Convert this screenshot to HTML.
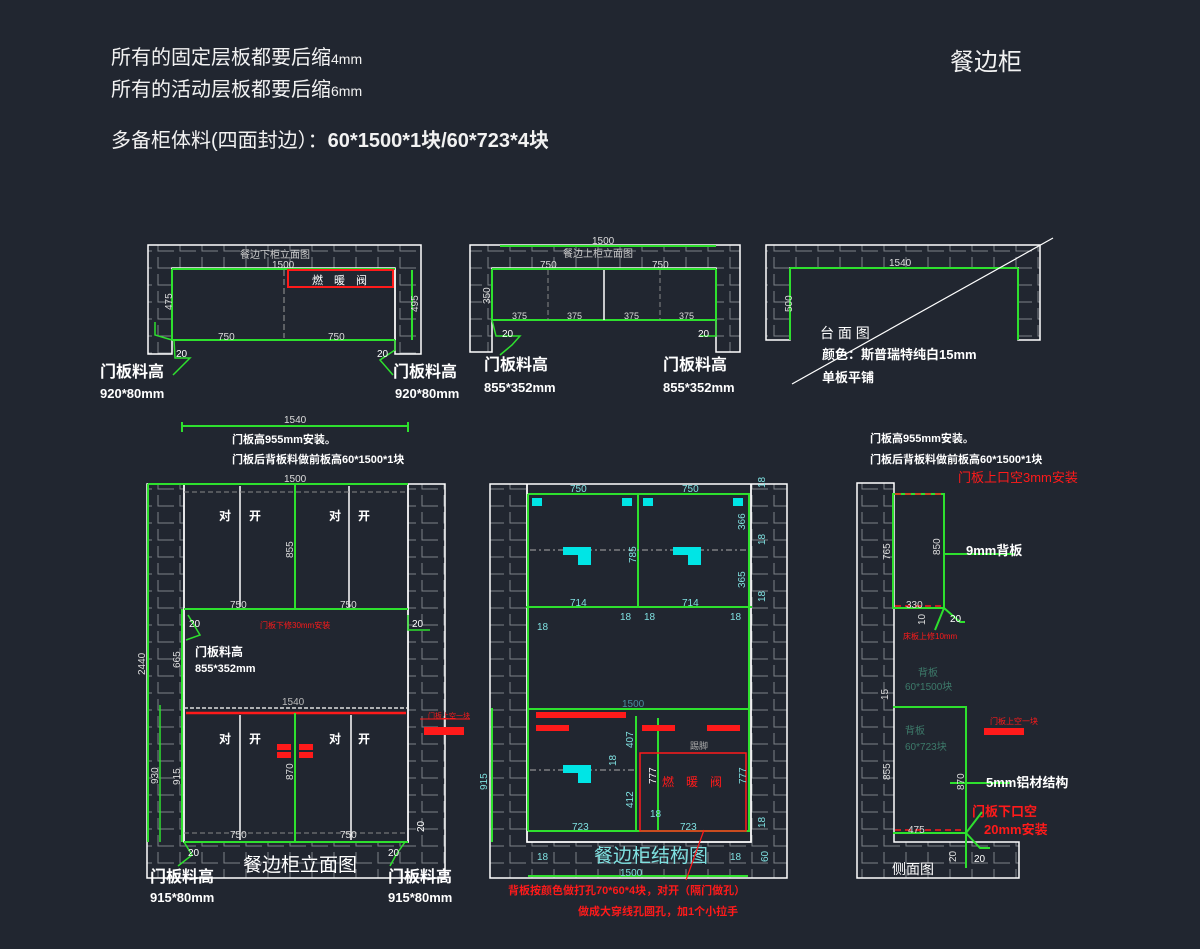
<!DOCTYPE html>
<html><head><meta charset="utf-8"><style>
html,body{margin:0;padding:0;background:#212630;}
svg{display:block}
text{font-family:"Liberation Sans","Noto Sans CJK SC",sans-serif;}
</style></head><body>
<svg width="1200" height="949" viewBox="0 0 1200 949" xmlns="http://www.w3.org/2000/svg">
<defs>
<pattern id="br" width="22" height="17" patternUnits="userSpaceOnUse">
<path d="M4 2 V13 H20" stroke="#7d8288" stroke-width="1" fill="none"/>
</pattern>
</defs>
<rect width="1200" height="949" fill="#212630"/>

<!-- header texts -->
<g fill="#f2f2f2" font-size="20">
<text x="111" y="64">所有的固定层板都要后缩<tspan font-size="14">4mm</tspan></text>
<text x="111" y="96">所有的活动层板都要后缩<tspan font-size="14">6mm</tspan></text>
<text x="111" y="147">多备柜体料(四面封边）：<tspan font-weight="bold">60*1500*1块/60*723*4块</tspan></text>
<text x="950" y="70" font-size="24">餐边柜</text>
</g>

<!-- ===== Drawing 1 ===== -->
<g>
<path d="M148 245 H421 V354 H395 V268 H172 V354 H148 Z" fill="url(#br)" stroke="#fff" stroke-width="1.5"/>
<rect x="172" y="269" width="223" height="71" fill="none" stroke="#fff" stroke-width="1.5"/>
<path d="M172 269 H395 M172 340 H395 M172 269 V340" stroke="#2ee02e" stroke-width="2" fill="none"/>
<line x1="284" y1="270" x2="284" y2="338" stroke="#999" stroke-dasharray="6,3"/>
<rect x="288" y="270" width="105" height="17" fill="none" stroke="#ff1a1a" stroke-width="2"/>
<text x="312" y="284" fill="#fff" font-size="11">燃　暖　阀</text>
<text x="240" y="258" fill="#ccc" font-size="10">餐边下柜立面图</text>
<text x="272" y="268" fill="#ddd" font-size="10">1500</text>
<text x="218" y="340" fill="#ddd" font-size="10">750</text>
<text x="328" y="340" fill="#ddd" font-size="10">750</text>
<line x1="412" y1="270" x2="412" y2="340" stroke="#2ee02e" stroke-width="2"/>
<text transform="translate(172,310) rotate(-90)" fill="#ddd" font-size="10">475</text>
<text transform="translate(418,312) rotate(-90)" fill="#ddd" font-size="10">495</text>
<path d="M155 322 V335 L172 340 M174 340 L175 358 H190 L173 375" stroke="#2ee02e" stroke-width="1.5" fill="none"/>
<path d="M395 340 V350 L380 360 L393 375" stroke="#2ee02e" stroke-width="1.5" fill="none"/>
<text x="176" y="357" fill="#fff" font-size="10">20</text>
<text x="377" y="357" fill="#fff" font-size="10">20</text>
</g>
<g fill="#fff" font-weight="bold">
<text x="100" y="377" font-size="16">门板料高</text>
<text x="100" y="398" font-size="13">920*80mm</text>
<text x="393" y="377" font-size="16">门板料高</text>
<text x="395" y="398" font-size="13">920*80mm</text>
<text x="484" y="370" font-size="16">门板料高</text>
<text x="484" y="392" font-size="13">855*352mm</text>
<text x="663" y="370" font-size="16">门板料高</text>
<text x="663" y="392" font-size="13">855*352mm</text>
</g>

<!-- ===== Drawing 2 ===== -->
<g>
<path d="M470 245 H740 V352 H716 V268 H492 V352 H470 Z" fill="url(#br)" stroke="#fff" stroke-width="1.5"/>
<rect x="492" y="269" width="224" height="51" fill="none" stroke="#fff" stroke-width="1.5"/>
<path d="M492 269 H716 M492 320 H716 M492 269 V320 M716 269 V320" stroke="#2ee02e" stroke-width="2" fill="none"/>
<line x1="500" y1="246" x2="716" y2="246" stroke="#2ee02e" stroke-width="2"/>
<line x1="604" y1="270" x2="604" y2="320" stroke="#fff" stroke-width="1.5"/>
<line x1="548" y1="270" x2="548" y2="320" stroke="#888" stroke-dasharray="5,3"/>
<line x1="660" y1="270" x2="660" y2="320" stroke="#888" stroke-dasharray="5,3"/>
<text x="592" y="244" fill="#ddd" font-size="10">1500</text>
<text x="563" y="257" fill="#ccc" font-size="10">餐边上柜立面图</text>
<text x="540" y="268" fill="#ddd" font-size="10">750</text>
<text x="652" y="268" fill="#ddd" font-size="10">750</text>
<text x="512" y="319" fill="#ddd" font-size="9">375</text>
<text x="567" y="319" fill="#ddd" font-size="9">375</text>
<text x="624" y="319" fill="#ddd" font-size="9">375</text>
<text x="679" y="319" fill="#ddd" font-size="9">375</text>
<text transform="translate(490,304) rotate(-90)" fill="#ddd" font-size="10">350</text>
<path d="M492 320 L496 336 H520 L512 345 L500 355" stroke="#2ee02e" stroke-width="1.5" fill="none"/>
<path d="M716 320 V336 H700" stroke="#2ee02e" stroke-width="1.5" fill="none"/>
<text x="502" y="337" fill="#fff" font-size="10">20</text>
<text x="698" y="337" fill="#fff" font-size="10">20</text>
</g>

<!-- ===== Drawing 3 ===== -->
<g>
<path d="M766 245 H1040 V340 H1018 V268 H790 V340 H766 Z" fill="url(#br)" stroke="#fff" stroke-width="1.5"/>
<path d="M790 268 H1018 M790 268 V340 M1018 268 V340" stroke="#2ee02e" stroke-width="2" fill="none"/>
<text x="889" y="266" fill="#ddd" font-size="10">1540</text>
<text transform="translate(792,312) rotate(-90)" fill="#ddd" font-size="10">500</text>
<line x1="792" y1="384" x2="1053" y2="238" stroke="#fff" stroke-width="1.2"/>
<text x="820" y="338" fill="#fff" font-size="14">台 面 图</text>
<text x="822" y="359" fill="#fff" font-size="13" font-weight="bold">颜色：斯普瑞特纯白15mm</text>
<text x="822" y="382" fill="#fff" font-size="13" font-weight="bold">单板平铺</text>
</g>

<!-- ===== Elevation (bottom left) ===== -->
<g>
<path d="M147 484 H445 V878 H147 Z M184 484 V842 H408 V484 Z" fill="url(#br)" fill-rule="evenodd" stroke="#fff" stroke-width="1.5"/>
<path d="M184 484 V842 H408 V484" fill="none" stroke="#fff" stroke-width="1.5"/>
<line x1="184" y1="609" x2="408" y2="609" stroke="#2ee02e" stroke-width="2"/>
<line x1="148" y1="484" x2="408" y2="484" stroke="#2ee02e" stroke-width="2"/>
<line x1="184" y1="708" x2="408" y2="708" stroke="#ddd" stroke-width="1.5" stroke-dasharray="4,2"/>
<line x1="186" y1="713" x2="406" y2="713" stroke="#ff1a1a" stroke-width="2.5"/>
<line x1="184" y1="842" x2="408" y2="842" stroke="#2ee02e" stroke-width="2"/>
<line x1="148" y1="484" x2="148" y2="842" stroke="#2ee02e" stroke-width="2"/>
<line x1="160" y1="705" x2="160" y2="842" stroke="#2ee02e" stroke-width="1.5"/>
<line x1="182" y1="609" x2="182" y2="842" stroke="#2ee02e" stroke-width="2"/>
<line x1="295" y1="484" x2="295" y2="609" stroke="#2ee02e" stroke-width="2"/>
<line x1="295" y1="713" x2="295" y2="842" stroke="#2ee02e" stroke-width="2"/>
<line x1="240" y1="486" x2="240" y2="607" stroke="#fff" stroke-width="1.5"/>
<line x1="349" y1="486" x2="349" y2="607" stroke="#fff" stroke-width="1.5"/>
<line x1="240" y1="715" x2="240" y2="840" stroke="#fff" stroke-width="1.5"/>
<line x1="351" y1="715" x2="351" y2="840" stroke="#fff" stroke-width="1.5"/>
<line x1="184" y1="492" x2="408" y2="492" stroke="#888" stroke-dasharray="5,3"/>
<line x1="184" y1="833" x2="408" y2="833" stroke="#888" stroke-dasharray="5,3"/>
<line x1="182" y1="426" x2="408" y2="426" stroke="#2ee02e" stroke-width="2"/>
<line x1="182" y1="422" x2="182" y2="432" stroke="#2ee02e" stroke-width="2"/>
<line x1="408" y1="422" x2="408" y2="432" stroke="#2ee02e" stroke-width="2"/>
<text x="284" y="423" fill="#ddd" font-size="10">1540</text>
<text x="232" y="443" fill="#fff" font-size="11" font-weight="bold">门板高955mm安装。</text>
<text x="232" y="463" fill="#fff" font-size="11" font-weight="bold">门板后背板料做前板高60*1500*1块</text>
<text x="284" y="482" fill="#ddd" font-size="10">1500</text>
<g fill="#fff" font-size="12" font-weight="bold">
<text x="219" y="520">对</text><text x="249" y="520">开</text>
<text x="329" y="520">对</text><text x="358" y="520">开</text>
<text x="219" y="743">对</text><text x="249" y="743">开</text>
<text x="329" y="743">对</text><text x="358" y="743">开</text>
</g>
<rect x="277" y="744" width="14" height="6" fill="#ff1a1a"/><rect x="299" y="744" width="14" height="6" fill="#ff1a1a"/>
<rect x="277" y="752" width="14" height="6" fill="#ff1a1a"/><rect x="299" y="752" width="14" height="6" fill="#ff1a1a"/>
<rect x="424" y="727" width="40" height="8" fill="#ff1a1a"/>
<line x1="420" y1="719" x2="470" y2="719" stroke="#ff1a1a" stroke-width="1"/>
<text x="428" y="718" fill="#ff1a1a" font-size="7">门板上空一块</text>
<text x="260" y="628" fill="#ff1a1a" font-size="8">门板下修30mm安装</text>
<text x="230" y="608" fill="#ddd" font-size="10">750</text>
<text x="340" y="608" fill="#ddd" font-size="10">750</text>
<text x="230" y="838" fill="#ddd" font-size="10">750</text>
<text x="340" y="838" fill="#ddd" font-size="10">750</text>
<text x="282" y="705" fill="#bbb" font-size="10">1540</text>
<text transform="translate(293,558) rotate(-90)" fill="#ddd" font-size="10">855</text>
<text transform="translate(293,780) rotate(-90)" fill="#ddd" font-size="10">870</text>
<text transform="translate(145,675) rotate(-90)" fill="#ddd" font-size="10">2440</text>
<text transform="translate(180,668) rotate(-90)" fill="#ddd" font-size="10">665</text>
<text transform="translate(158,784) rotate(-90)" fill="#ddd" font-size="10">930</text>
<text transform="translate(180,785) rotate(-90)" fill="#ddd" font-size="10">915</text>
<path d="M188 615 L200 635 L186 640 M408 615 V630 H430" stroke="#2ee02e" stroke-width="1.5" fill="none"/>
<text x="189" y="627" fill="#fff" font-size="10">20</text>
<text x="412" y="627" fill="#fff" font-size="10">20</text>
<text x="195" y="656" fill="#fff" font-size="12" font-weight="bold">门板料高</text>
<text x="195" y="672" fill="#fff" font-size="11" font-weight="bold">855*352mm</text>
<path d="M184 842 L192 855 L178 866 M405 842 L396 855 L390 866" stroke="#2ee02e" stroke-width="1.5" fill="none"/>
<text x="188" y="856" fill="#fff" font-size="10">20</text>
<text x="388" y="856" fill="#fff" font-size="10">20</text>
<text transform="translate(424,832) rotate(-90)" fill="#fff" font-size="10">20</text>
<text x="243" y="871" fill="#fff" font-size="19">餐边柜立面图</text>
<text x="150" y="882" fill="#fff" font-size="16" font-weight="bold">门板料高</text>
<text x="150" y="902" fill="#fff" font-size="13" font-weight="bold">915*80mm</text>
<text x="388" y="882" fill="#fff" font-size="16" font-weight="bold">门板料高</text>
<text x="388" y="902" fill="#fff" font-size="13" font-weight="bold">915*80mm</text>
</g>

<!-- ===== Structure (middle) ===== -->
<g>
<path d="M490 484 H787 V878 H490 Z M527 484 V842 H751 V484 Z" fill="url(#br)" fill-rule="evenodd" stroke="#fff" stroke-width="1.5"/>
<path d="M527 484 V842 H751 V484" fill="none" stroke="#fff" stroke-width="1.5"/>
<g stroke="#2ee02e" stroke-width="2" fill="none">
<line x1="528" y1="494" x2="750" y2="494"/>
<line x1="526" y1="607" x2="752" y2="607"/>
<line x1="528" y1="709" x2="750" y2="709"/>
<line x1="528" y1="831" x2="750" y2="831"/>
<line x1="638" y1="494" x2="638" y2="607"/>
<line x1="636" y1="716" x2="636" y2="831"/>
<line x1="658" y1="718" x2="658" y2="831"/>
<line x1="749" y1="494" x2="749" y2="831"/>
<line x1="528" y1="494" x2="528" y2="831"/>
<line x1="528" y1="876" x2="748" y2="876"/>
<line x1="492" y1="708" x2="492" y2="842"/>
</g>
<line x1="530" y1="550" x2="748" y2="550" stroke="#aaa" stroke-dasharray="6,3,2,3"/>
<line x1="530" y1="770" x2="634" y2="770" stroke="#aaa" stroke-dasharray="6,3,2,3"/>
<rect x="536" y="712" width="90" height="6" fill="#ff1a1a"/>
<rect x="536" y="725" width="33" height="6" fill="#ff1a1a"/>
<rect x="642" y="725" width="33" height="6" fill="#ff1a1a"/>
<rect x="707" y="725" width="33" height="6" fill="#ff1a1a"/>
<rect x="640" y="753" width="106" height="78" fill="none" stroke="#ff1a1a" stroke-width="1.5"/>
<text x="662" y="786" fill="#ff1a1a" font-size="12">燃　暖　阀</text>
<text x="690" y="749" fill="#aaa" font-size="9">踢脚</text>
<g fill="#00e5e5">
<rect x="532" y="498" width="10" height="8"/><rect x="622" y="498" width="10" height="8"/>
<rect x="643" y="498" width="10" height="8"/><rect x="733" y="498" width="10" height="8"/>
<rect x="563" y="547" width="28" height="8"/><rect x="578" y="555" width="13" height="10"/>
<rect x="673" y="547" width="28" height="8"/><rect x="688" y="555" width="13" height="10"/>
<rect x="563" y="765" width="28" height="8"/><rect x="578" y="773" width="13" height="10"/>
</g>
<g fill="#7fe0e0" font-size="10">
<text x="570" y="492">750</text><text x="682" y="492">750</text>
<text x="570" y="606">714</text><text x="682" y="606">714</text>
<text x="572" y="830">723</text><text x="680" y="830">723</text>
<text x="622" y="707" fill="#4a8ca0">1500</text>
<text x="620" y="876">1500</text>
<text x="537" y="630">18</text><text x="620" y="620">18</text><text x="644" y="620">18</text><text x="730" y="620">18</text>
<text x="537" y="860">18</text><text x="730" y="860">18</text>
<text x="650" y="817">18</text>
<text transform="translate(636,563) rotate(-90)">785</text>
<text transform="translate(745,530) rotate(-90)">366</text>
<text transform="translate(745,588) rotate(-90)">365</text>
<text transform="translate(633,748) rotate(-90)">407</text>
<text transform="translate(633,808) rotate(-90)">412</text>
<text transform="translate(656,784) rotate(-90)" fill="#fff">777</text>
<text transform="translate(746,784) rotate(-90)">777</text>
<text transform="translate(487,790) rotate(-90)">915</text>
<text transform="translate(616,766) rotate(-90)">18</text>
<text transform="translate(765,488) rotate(-90)">18</text>
<text transform="translate(765,545) rotate(-90)">18</text>
<text transform="translate(765,602) rotate(-90)">18</text>
<text transform="translate(765,828) rotate(-90)">18</text>
<text transform="translate(768,862) rotate(-90)">60</text>
</g>
<text x="594" y="862" fill="#7fe0e0" font-size="19">餐边柜结构图</text>
<line x1="704" y1="830" x2="686" y2="880" stroke="#ff1a1a" stroke-width="1.2"/>
<text x="508" y="894" fill="#ff1a1a" font-size="11" font-weight="bold">背板按颜色做打孔70*60*4块，对开（隔门做孔）</text>
<text x="578" y="915" fill="#ff1a1a" font-size="11" font-weight="bold">做成大穿线孔圆孔，加1个小拉手</text>
</g>

<!-- ===== Side view ===== -->
<g>
<path d="M857 483 H894 V842 H1019 V878 H857 Z" fill="url(#br)" stroke="#fff" stroke-width="1.5"/>
<g stroke="#2ee02e" stroke-width="2" fill="none">
<path d="M893 494 H944 V608 H893 Z"/>
<path d="M893 707 H966 V833 H893"/>
<line x1="944" y1="554" x2="1015" y2="554"/>
<line x1="950" y1="783" x2="1010" y2="783"/>
<path d="M966 833 L982 812 M966 833 V868 M966 833 L980 848 H990"/>
<path d="M944 608 L960 622 H965 M944 608 L935 630"/>
</g>
<line x1="895" y1="494" x2="942" y2="494" stroke="#ff1a1a" stroke-width="1.5" stroke-dasharray="6,4"/>
<line x1="895" y1="606" x2="942" y2="606" stroke="#ff1a1a" stroke-width="1.5" stroke-dasharray="6,4"/>
<line x1="895" y1="830" x2="964" y2="830" stroke="#ff1a1a" stroke-width="1.5" stroke-dasharray="6,4"/>
<rect x="984" y="728" width="40" height="7" fill="#ff1a1a"/>
<text x="870" y="442" fill="#fff" font-size="11" font-weight="bold">门板高955mm安装。</text>
<text x="870" y="463" fill="#fff" font-size="11" font-weight="bold">门板后背板料做前板高60*1500*1块</text>
<text x="958" y="482" fill="#ff1a1a" font-size="13">门板上口空3mm安装</text>
<text x="966" y="555" fill="#fff" font-size="13" font-weight="bold">9mm背板</text>
<text x="986" y="787" fill="#fff" font-size="13" font-weight="bold">5mm铝材结构</text>
<text x="972" y="816" fill="#ff1a1a" font-size="13" font-weight="bold">门板下口空</text>
<text x="984" y="834" fill="#ff1a1a" font-size="13" font-weight="bold">20mm安装</text>
<text x="903" y="639" fill="#ff1a1a" font-size="8">床板上修10mm</text>
<text x="990" y="724" fill="#ff1a1a" font-size="8">门板上空一块</text>
<text x="918" y="676" fill="#3d7a6a" font-size="10">背板</text>
<text x="905" y="690" fill="#3d7a6a" font-size="10">60*1500块</text>
<text x="905" y="734" fill="#3d7a6a" font-size="10">背板</text>
<text x="905" y="750" fill="#3d7a6a" font-size="10">60*723块</text>
<text x="906" y="608" fill="#ddd" font-size="10">330</text>
<text x="908" y="833" fill="#ddd" font-size="10">475</text>
<text x="950" y="622" fill="#fff" font-size="10">20</text>
<text x="974" y="862" fill="#fff" font-size="10">20</text>
<g fill="#ddd" font-size="10">
<text transform="translate(890,560) rotate(-90)">765</text>
<text transform="translate(940,555) rotate(-90)">850</text>
<text transform="translate(890,780) rotate(-90)">855</text>
<text transform="translate(964,790) rotate(-90)">870</text>
<text transform="translate(888,700) rotate(-90)">15</text>
<text transform="translate(925,625) rotate(-90)">10</text>
<text transform="translate(956,862) rotate(-90)">20</text>
</g>
<text x="892" y="874" fill="#fff" font-size="14">侧面图</text>
</g>
</svg>
</body></html>
